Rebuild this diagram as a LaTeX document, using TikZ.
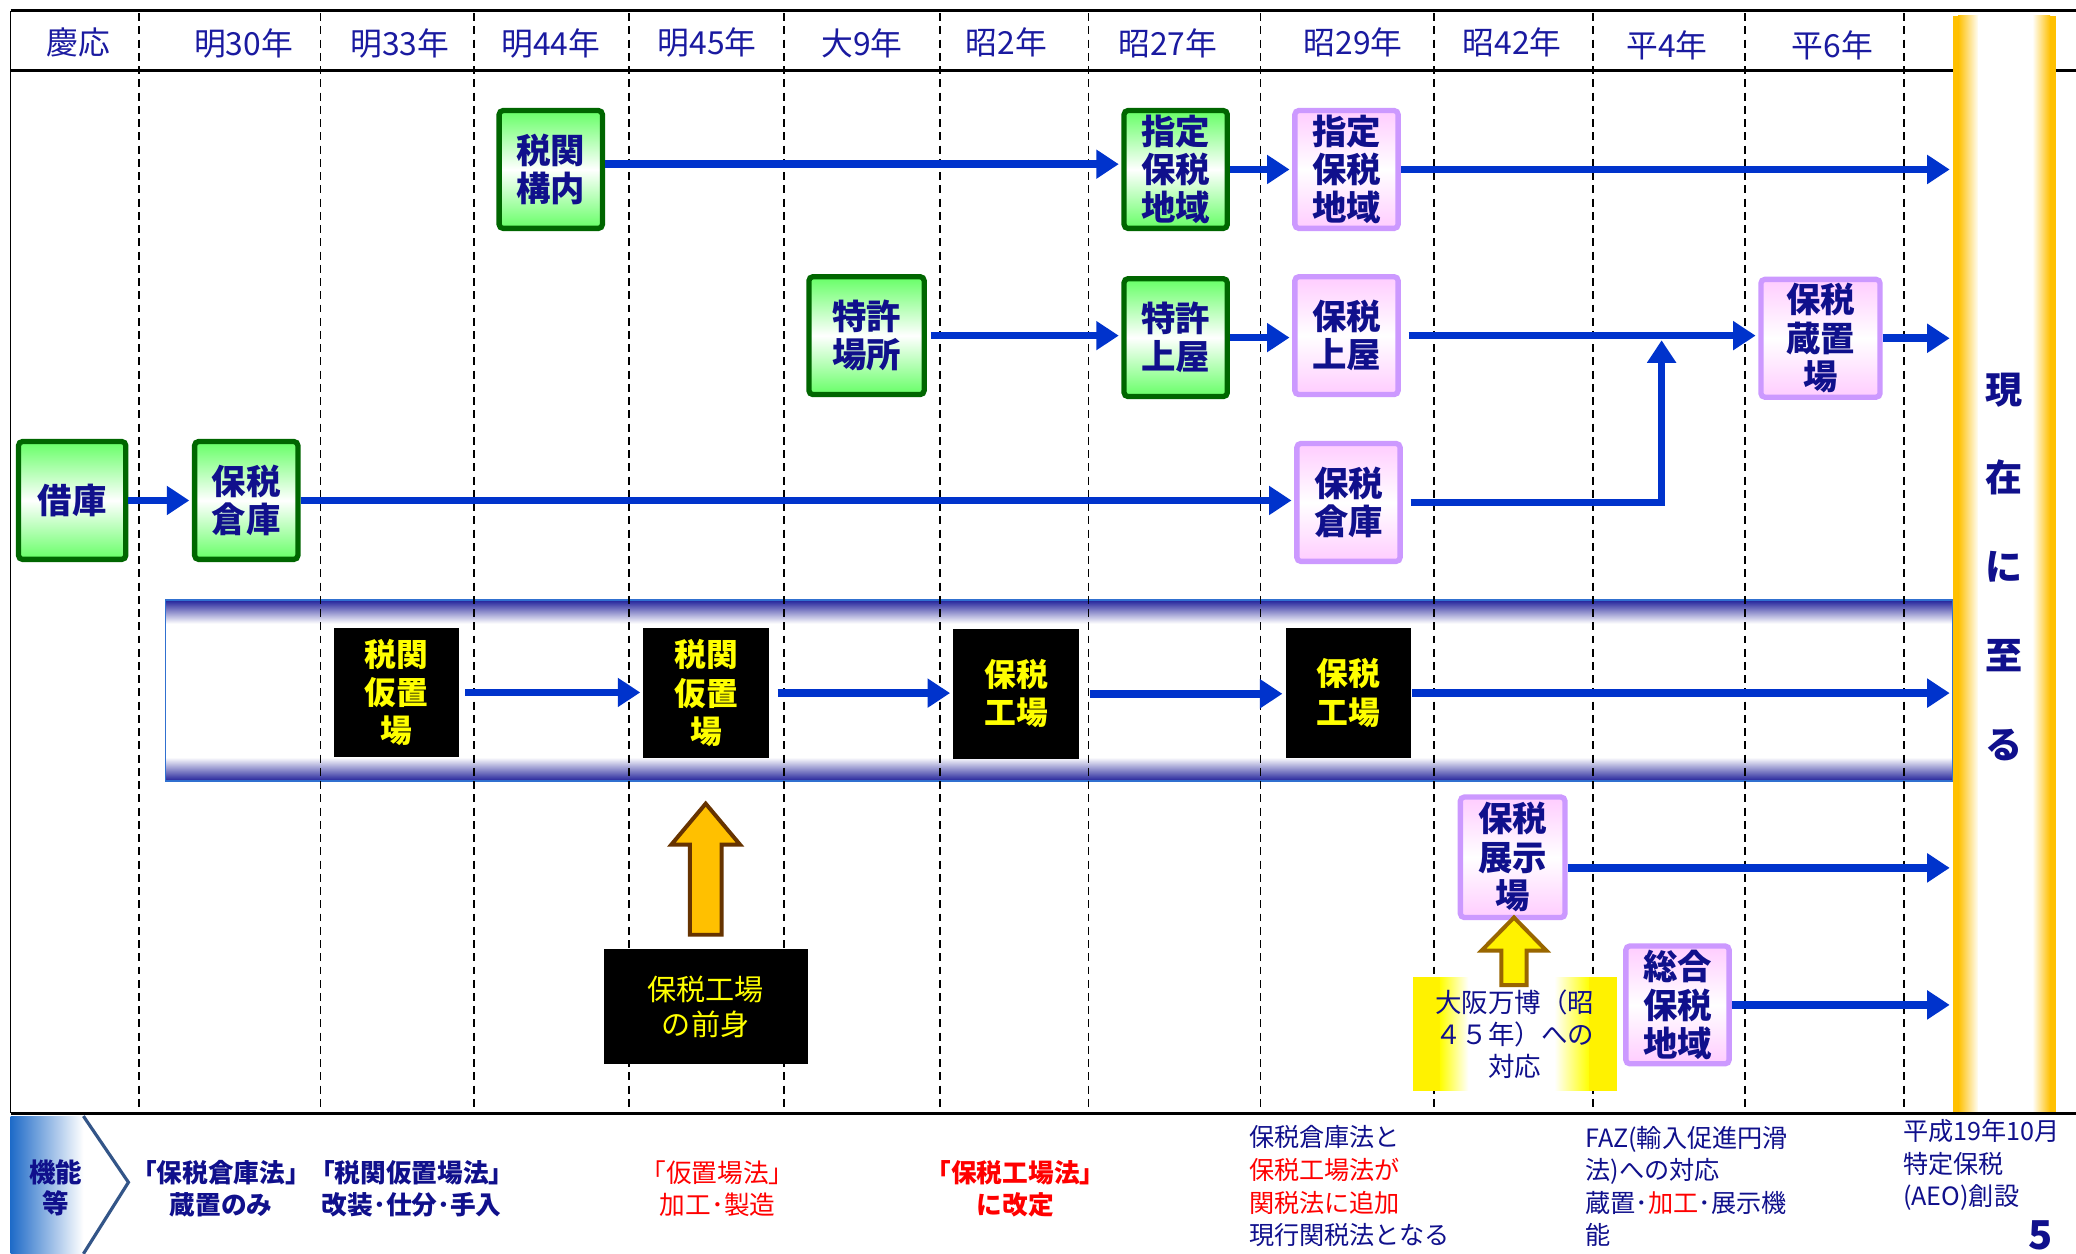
\documentclass[tikz,border=0pt]{standalone}
\usepackage{fontspec}
\setmainfont{Noto Sans CJK JP}
\usetikzlibrary{arrows.meta,calc}
\definecolor{navy}{HTML}{10108C}
\definecolor{hblue}{HTML}{1A1AA0}
\definecolor{ablue}{HTML}{0033CC}
\definecolor{gborder}{HTML}{006600}
\definecolor{gfill}{HTML}{66FF66}
\definecolor{pborder}{HTML}{CC99FF}
\definecolor{pfill}{HTML}{FFCCFF}
\definecolor{ytext}{HTML}{FFFF00}
\definecolor{gold}{HTML}{FFC000}
\definecolor{obrown}{HTML}{663300}
\definecolor{ybrown}{HTML}{996600}
\definecolor{banddark}{HTML}{1F1F99}
\definecolor{bandedge}{HTML}{3070D0}
\definecolor{chevblue}{HTML}{1F6BC8}
\definecolor{chevline}{HTML}{335588}
\definecolor{redtxt}{HTML}{FF0000}
\begin{document}
\begin{tikzpicture}[x=0.5pt,y=-0.5pt,
 lbl/.style={font=\bfseries\fontsize{13}{14.5}\selectfont,text=navy,align=center,inner sep=0pt},
 gbox/.style={lbl,draw=gborder,line width=2pt,rounded corners=1.5pt,top color=gfill,bottom color=gfill,middle color=white,minimum width=39pt,minimum height=44.5pt},
 pbox/.style={lbl,draw=pborder,line width=2pt,rounded corners=1.5pt,top color=pfill,bottom color=pfill,middle color=white,minimum width=39pt,minimum height=44.5pt},
 kbox/.style={fill=black,text=ytext,font=\bfseries\fontsize{12}{14.5}\selectfont,align=center,inner sep=0pt,minimum width=47.5pt,minimum height=49pt},
 flow/.style={draw=ablue,line width=2.9pt,-{Triangle[length=8.5pt,width=10.5pt]},shorten >=1pt},
 hdr/.style={font=\fontsize{12}{14}\selectfont,text=hblue,inner sep=0pt},
 vline/.style={dash pattern=on 3pt off 2pt,line width=0.6pt},
 foot/.style={font=\fontsize{9.5}{12.3}\selectfont,text=navy,inner sep=0pt},
 footb/.style={font=\bfseries\fontsize{9.7}{12}\selectfont,text=navy,inner sep=0pt,align=center},
]
\fill[white] (0,0) rectangle (1568,947);
\useasboundingbox (0,0) rectangle (1568,947);

% band
\shade[top color=banddark,bottom color=white] (125,453) rectangle (1475,471);
\shade[top color=white,bottom color=banddark] (125,572) rectangle (1475,590);
\draw[bandedge,line width=0.6pt] (125,453) rectangle (1475,590);

% dashed grid
\foreach \x in {105,242,358,475,592,710,822,952,1083,1203,1318,1438}
  \draw[vline] (\x,10) -- (\x,840);

% header lines
\draw[line width=1.25pt] (8,8) -- (1568,8);
\draw[line width=1.2pt] (8,53) -- (1568,53);
\draw[line width=0.6pt] (8,8) -- (8,841);

% yellow bar
\fill[gold] (1475,12) rectangle (1479.5,840);
\shade[left color=gold,right color=white] (1479,12) rectangle (1494.5,840);
\fill[white] (1494,12) rectangle (1535.5,840);
\shade[left color=white,right color=gold] (1535,12) rectangle (1548.5,840);
\fill[gold] (1548,12) rectangle (1553,840);
\node[inner sep=0pt,minimum width=39pt,minimum height=414pt] (bar) at (1514,426) {};
\node[font=\bfseries\fontsize{14}{33.5}\selectfont,text=navy,align=center,inner sep=0pt] (now) at (1514,428) {現\\在\\に\\至\\る};

\draw[line width=1.3pt] (8,841) -- (1568,841);

% header labels
\node[hdr] (h0) at (59,32) {慶応};
\node[hdr] (h1) at (184,33) {明30年};
\node[hdr] (h2) at (302,33) {明33年};
\node[hdr] (h3) at (416,33) {明44年};
\node[hdr] (h4) at (534,32) {明45年};
\node[hdr] (h5) at (651,33) {大9年};
\node[hdr] (h6) at (760,32) {昭2年};
\node[hdr] (h7) at (882,33) {昭27年};
\node[hdr] (h8) at (1022,32) {昭29年};
\node[hdr] (h9) at (1142,32) {昭42年};
\node[hdr] (h10) at (1259,34) {平4年};
\node[hdr] (h11) at (1384,34) {平6年};

% boxes
\node[gbox] (k1) at (416,128) {税関\\構内};
\node[gbox] (s1) at (888,128) {指定\\保税\\地域};
\node[pbox] (s2) at (1017,128) {指定\\保税\\地域};
\node[gbox,minimum width=43.5pt] (t1) at (654.5,253.5) {特許\\場所};
\node[gbox] (t2) at (888,255) {特許\\上屋};
\node[pbox] (t3) at (1017,253.5) {保税\\上屋};
\node[pbox,minimum width=45pt] (t4) at (1375,255.5) {保税\\蔵置\\場};
\node[gbox,minimum width=40.5pt] (b0) at (54.5,378) {借庫};
\node[gbox] (b1) at (186,378) {保税\\倉庫};
\node[pbox] (b2) at (1018.5,379.5) {保税\\倉庫};
\node[kbox] (k2) at (299.5,523) {税関\\仮置\\場};
\node[kbox] (k3) at (533.5,523.5) {税関\\仮置\\場};
\node[kbox] (f1) at (767.5,524) {保税\\工場};
\node[kbox] (f2) at (1018.5,523.5) {保税\\工場};
\node[kbox,minimum width=77pt,minimum height=43.5pt,font=\fontsize{11}{13.5}\selectfont] (zen) at (533,760.5) {保税工場\\の前身};
\node[pbox,minimum width=39.5pt,minimum height=45.5pt] (e1) at (1142.5,647.5) {保税\\展示\\場};
\node[pbox] (g1) at (1267,759) {総合\\保税\\地域};

% osaka box
\fill[yellow] (1067,738) rectangle (1088,824);
\shade[left color=yellow,right color=white] (1087.5,738) rectangle (1109,824);
\shade[left color=white,right color=yellow] (1174,738) rectangle (1200.5,824);
\fill[yellow] (1200,738) rectangle (1221,824);
\node[font=\fontsize{10}{12}\selectfont,text=navy,align=center,inner sep=0pt,minimum width=77pt,minimum height=43pt] (osaka) at (1144,781) {大阪万博（昭\\４５年）への\\対応};

% block arrows
\draw[line width=1.5pt,draw=obrown,fill=gold] (521,706) -- (521,638) -- (507,638) -- (533,607) -- (559,638) -- (545,638) -- (545,706) -- cycle;
\draw[line width=1.5pt,draw=ybrown,fill=yellow] (1134,744) -- (1134,718) -- (1119,718) -- (1143.5,693) -- (1168,718) -- (1153,718) -- (1153,744) -- cycle;

% connectors
\draw[flow] ([yshift=2pt]k1.east) -- ([yshift=2pt]k1.east -| s1.west);
\draw[flow] (s1.east) -- (s1.east -| s2.west);
\draw[flow] (s2.east) -- (s2.east -| bar.west);
\draw[flow,shorten <=1.5pt] (t1.east) -- (t1.east -| t2.west);
\draw[flow] (t2.east) -- (t2.east -| t3.west);
\draw[flow,shorten <=3pt] (t3.east) -- (t3.east -| t4.west);
\draw[flow] (t4.east) -- (t4.east -| bar.west);
\draw[flow] (b0.east) -- (b0.east -| b1.west);
\draw[flow] (b1.east) -- (b1.east -| b2.west);
\coordinate (join) at (1255,257);
\draw[flow,shorten <=3pt,shorten >=0pt] (b2.east) -| (join);
\draw[flow,shorten <=2pt] (k2.east) -- (k2.east -| k3.west);
\draw[flow,shorten <=3pt] (k3.east) -- (k3.east -| f1.west);
\draw[flow,shorten <=4pt] (f1.east) -- (f1.east -| f2.west);
\draw[flow] (f2.east) -- (f2.east -| bar.west);
\draw[flow] ([yshift=-4pt]e1.east) -- ([yshift=-4pt]e1.east -| bar.west);
\draw[flow] (g1.east) -- (g1.east -| bar.west);

% bottom section
\shade[left color=chevblue,right color=white] (8,843) rectangle (63,947);
\draw[chevline,line width=1.2pt] (63,843) -- (97,893) -- (63,947);
\node[font=\bfseries\fontsize{10}{11.5}\selectfont,text=navy,align=center,inner sep=0pt] (kino) at (42,897) {機能\\等};

\node[footb] (n1) at (167,898) {「保税倉庫法」\\蔵置のみ};
\node[footb] (n2) at (311,898) {「税関仮置場法」\\改装･仕分･手入};
\node[footb,font=\fontsize{9.7}{12}\selectfont,text=redtxt] (n3) at (542,898) {「仮置場法」\\加工･製造};
\node[footb,text=redtxt] (n4) at (767,898) {「保税工場法」\\に改定};
\node[foot,align=left,anchor=west] (n5) at (943,896) {保税倉庫法と\\\textcolor{redtxt}{保税工場法が}\\\textcolor{redtxt}{関税法に追加}\\現行関税法となる};
\node[foot,align=left,anchor=west] (n6) at (1197,896) {FAZ(輸入促進円滑\\法)への対応\\蔵置･\textcolor{redtxt}{加工}･展示機\\能};
\node[foot,align=left,anchor=west] (n7) at (1437,880) {平成19年10月\\特定保税\\(AEO)創設};
\node[font=\bfseries\fontsize{15}{15}\selectfont,text=navy,inner sep=0pt] (pg) at (1541,933) {5};
\end{tikzpicture}
\end{document}
